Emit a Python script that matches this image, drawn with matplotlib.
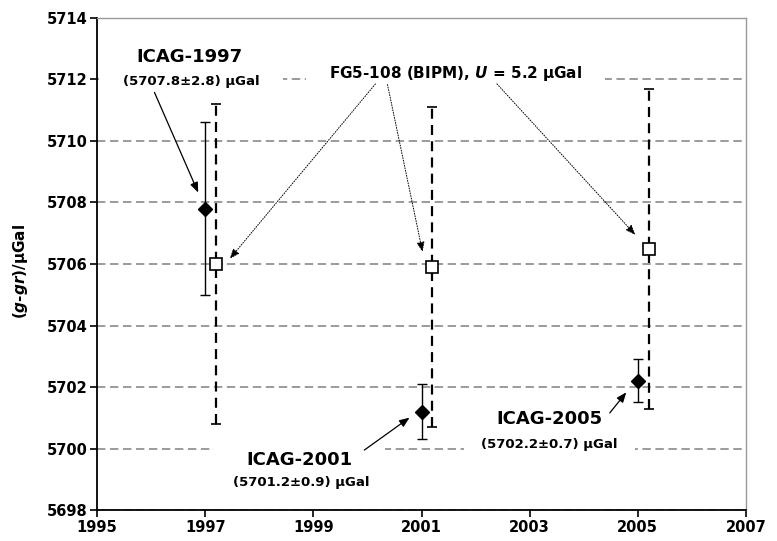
import matplotlib
matplotlib.use("Agg")
import matplotlib.pyplot as plt

plt.rcParams['font.family'] = ['DejaVu Sans']
plt.rcParams['font.weight'] = 'bold'
plt.rcParams['mathtext.fontset'] = 'custom'
plt.rcParams['mathtext.it'] = 'DejaVu Sans:italic:bold'
plt.rcParams['mathtext.rm'] = 'DejaVu Sans:bold'
plt.rcParams['mathtext.bf'] = 'DejaVu Sans:bold'

# ICAG comparison results
icag_year = [1997.0, 2001.0, 2005.0]
icag_g = [5707.8, 5701.2, 5702.2]
icag_err = [2.8, 0.9, 0.7]

# FG5-108 (BIPM) results
fg5_year = [1997.2, 2001.2, 2005.2]
fg5_g = [5706.0, 5705.9, 5706.5]
fg5_err = [5.2, 5.2, 5.2]

xticks = [1995, 1997, 1999, 2001, 2003, 2005, 2007]
yticks = [5698, 5700, 5702, 5704, 5706, 5708, 5710, 5712, 5714]

fig = plt.figure(figsize=(7.77, 5.41), dpi=100)
ax = fig.add_axes([0.125, 0.057, 0.835, 0.910])

ax.set_xlim(1995, 2007)
ax.set_ylim(5698, 5714)
ax.set_xticks(xticks)
ax.set_yticks(yticks)
ax.tick_params(direction='out', length=5, width=1.2, labelsize=10.5, pad=2)

ax.set_axisbelow(True)
ax.grid(axis='y', color='#808080', linestyle=(0, (5.5, 3)), linewidth=1.1)
for s in ['left', 'bottom']:
    ax.spines[s].set_color('black')
    ax.spines[s].set_linewidth(1.3)
for s in ['top', 'right']:
    ax.spines[s].set_color('#999999')
    ax.spines[s].set_linewidth(1.0)

# ICAG points, solid thin error bars
ax.errorbar(icag_year, icag_g, yerr=icag_err, fmt='D', color='black',
            markersize=7, elinewidth=1.0, capsize=3.5, capthick=1.0, zorder=5)

# FG5 points, dashed thick error bars
eb = ax.errorbar(fg5_year, fg5_g, yerr=fg5_err, fmt='s', color='black',
                 mfc='white', mec='black', mew=1.2, markersize=8.5,
                 elinewidth=1.6, capsize=3.5, capthick=1.8, zorder=4)
eb[2][0].set_linestyle((0, (4.5, 2.8)))

ax.set_ylabel('$(g$-$gr)$/\u00b5Gal', fontsize=11, fontweight='bold')
ax.yaxis.set_label_coords(-0.104, 0.484)

arrow = dict(arrowstyle='-|>,head_length=0.5,head_width=0.2', color='black',
             lw=0.9, mutation_scale=12)
dotted = dict(arrowstyle='-|>,head_length=0.5,head_width=0.2', color='black',
              lw=0.7, linestyle=':', mutation_scale=12)
mask = 'square,pad={}'

# ICAG labels (white boxes hide the grid behind them)
ax.text(1996.70, 5712.72, 'ICAG-1997', ha='center', va='center',
        fontsize=13, fontweight='bold', zorder=2.6)
ax.text(1996.74, 5711.93, '(5707.8\u00b12.8) \u00b5Gal', ha='center', va='center',
        fontsize=9.5, fontweight='bold', zorder=2,
        bbox=dict(boxstyle=mask.format(1.8), fc='white', ec='none'))
ax.annotate('', xy=(1996.89, 5708.24), xytext=(1996.04, 5711.66),
            arrowprops=arrow, zorder=3)

ax.text(1998.75, 5699.63, 'ICAG-2001', ha='center', va='center',
        fontsize=13, fontweight='bold', zorder=2,
        bbox=dict(boxstyle=mask.format(1.8), fc='white', ec='none'))
ax.text(1998.77, 5698.91, '(5701.2\u00b10.9) \u00b5Gal', ha='center', va='center',
        fontsize=9.5, fontweight='bold', zorder=2.6)
ax.annotate('', xy=(2000.82, 5701.06), xytext=(1999.90, 5699.9),
            arrowprops=arrow, zorder=3)

ax.text(2003.36, 5700.96, 'ICAG-2005', ha='center', va='center',
        fontsize=13, fontweight='bold', zorder=2.6)
ax.text(2003.36, 5700.15, '(5702.2\u00b10.7) \u00b5Gal', ha='center', va='center',
        fontsize=9.5, fontweight='bold', zorder=2,
        bbox=dict(boxstyle=mask.format(1.3), fc='white', ec='none'))
ax.annotate('', xy=(2004.82, 5701.9), xytext=(2004.45, 5701.09),
            arrowprops=arrow, zorder=3)

# FG5 label with dotted arrows
ax.text(2001.63, 5712.2, 'FG5-108 (BIPM), $U$ = 5.2 \u00b5Gal', ha='center',
        va='center', fontsize=11, fontweight='bold', zorder=2,
        bbox=dict(boxstyle=mask.format(1.5), fc='white', ec='none'))
ax.annotate('', xy=(1997.42, 5706.1), xytext=(2000.18, 5711.92),
            arrowprops=dotted, zorder=3)
ax.annotate('', xy=(2001.03, 5706.3), xytext=(2000.36, 5711.92),
            arrowprops=dotted, zorder=3)
ax.annotate('', xy=(2004.99, 5706.88), xytext=(2002.36, 5711.92),
            arrowprops=dotted, zorder=3)

fig.savefig('out.png', dpi=100)
